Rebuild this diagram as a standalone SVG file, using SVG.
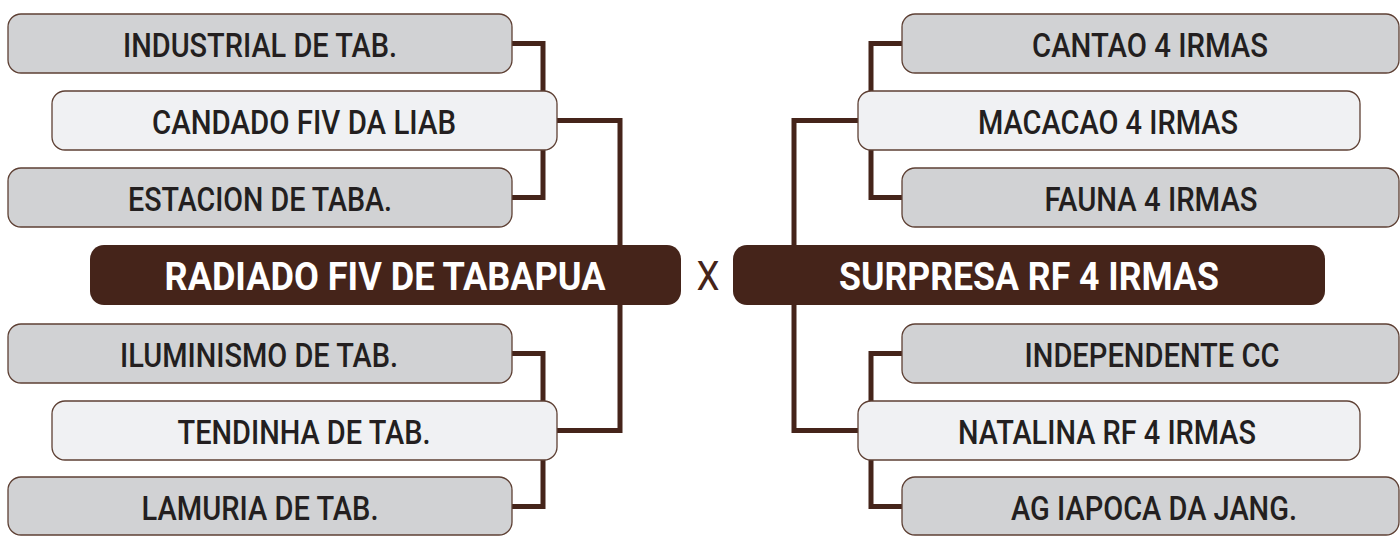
<svg xmlns="http://www.w3.org/2000/svg" width="1400" height="536" viewBox="0 0 1400 536">
<style>
.c{fill:none;stroke:#45241a;stroke-width:5;stroke-linejoin:miter}
.g{fill:#d1d2d4;stroke:#5e4034;stroke-width:1.3}
.l{fill:#f0f1f3;stroke:#5e4034;stroke-width:1.3}
.d{fill:#45241a}
.t{font-family:Roboto,"Liberation Sans",sans-serif;font-weight:500;font-size:34px;fill:#231f20;text-anchor:middle}
.w{font-family:Roboto,"Liberation Sans",sans-serif;font-weight:700;font-size:38px;fill:#ffffff;text-anchor:middle}
.x{font-family:Roboto,"Liberation Sans",sans-serif;font-weight:400;font-size:41px;fill:#45241a;text-anchor:middle}
</style>
<g id="connectors">
<path class="c" d="M512,43.5 H543 V197.5 H512"/>
<path class="c" d="M557,120.5 H620 V430.5 H557"/>
<path class="c" d="M512,353.5 H543 V506.5 H512"/>
<path class="c" d="M902,43.5 H871 V197.5 H902"/>
<path class="c" d="M858,120.5 H794 V430.5 H858"/>
<path class="c" d="M902,353.5 H871 V506.5 H902"/>
</g>
<g id="industrial"><rect class="g" x="8" y="14" width="504" height="59" rx="13"/><text class="t" x="260" y="57" textLength="274" lengthAdjust="spacingAndGlyphs">INDUSTRIAL DE TAB.</text></g>
<g id="candado"><rect class="l" x="52" y="91" width="505" height="59" rx="13"/><text class="t" x="304" y="134" textLength="304" lengthAdjust="spacingAndGlyphs">CANDADO FIV DA LIAB</text></g>
<g id="estacion"><rect class="g" x="8" y="168" width="504" height="59" rx="13"/><text class="t" x="260" y="211" textLength="264" lengthAdjust="spacingAndGlyphs">ESTACION DE TABA.</text></g>
<g id="iluminismo"><rect class="g" x="8" y="324" width="504" height="59" rx="13"/><text class="t" x="259" y="367" textLength="278" lengthAdjust="spacingAndGlyphs">ILUMINISMO DE TAB.</text></g>
<g id="tendinha"><rect class="l" x="52" y="401" width="505" height="59" rx="13"/><text class="t" x="304" y="444" textLength="253" lengthAdjust="spacingAndGlyphs">TENDINHA DE TAB.</text></g>
<g id="lamuria"><rect class="g" x="8" y="477" width="504" height="58" rx="13"/><text class="t" x="260" y="520" textLength="237" lengthAdjust="spacingAndGlyphs">LAMURIA DE TAB.</text></g>
<g id="radiado"><rect class="d" x="90" y="245" width="591" height="60" rx="14"/><text class="w" x="385" y="290" textLength="441" lengthAdjust="spacingAndGlyphs">RADIADO FIV DE TABAPUA</text></g>
<g id="versus"><text class="x" x="708" y="290" textLength="23" lengthAdjust="spacingAndGlyphs">X</text></g>
<g id="surpresa"><rect class="d" x="733" y="245" width="592" height="60" rx="14"/><text class="w" x="1029" y="290" textLength="380" lengthAdjust="spacingAndGlyphs">SURPRESA RF 4 IRMAS</text></g>
<g id="cantao"><rect class="g" x="902" y="14" width="497" height="59" rx="13"/><text class="t" x="1150" y="57" textLength="236" lengthAdjust="spacingAndGlyphs">CANTAO 4 IRMAS</text></g>
<g id="macacao"><rect class="l" x="858" y="91" width="502" height="59" rx="13"/><text class="t" x="1108" y="134" textLength="260" lengthAdjust="spacingAndGlyphs">MACACAO 4 IRMAS</text></g>
<g id="fauna"><rect class="g" x="902" y="168" width="497" height="59" rx="13"/><text class="t" x="1151" y="211" textLength="213" lengthAdjust="spacingAndGlyphs">FAUNA 4 IRMAS</text></g>
<g id="independente"><rect class="g" x="902" y="324" width="497" height="59" rx="13"/><text class="t" x="1152" y="367" textLength="255" lengthAdjust="spacingAndGlyphs">INDEPENDENTE CC</text></g>
<g id="natalina"><rect class="l" x="858" y="401" width="502" height="59" rx="13"/><text class="t" x="1107" y="444" textLength="298" lengthAdjust="spacingAndGlyphs">NATALINA RF 4 IRMAS</text></g>
<g id="agiapoca"><rect class="g" x="902" y="477" width="497" height="58" rx="13"/><text class="t" x="1154" y="520" textLength="286" lengthAdjust="spacingAndGlyphs">AG IAPOCA DA JANG.</text></g>
</svg>
